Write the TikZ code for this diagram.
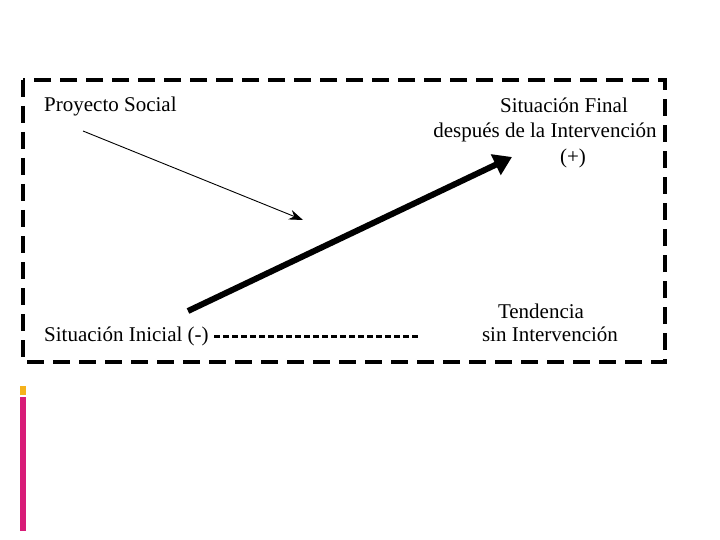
\documentclass[tikz,border=0pt]{standalone}
\usepackage{fontspec}
\setmainfont{Liberation Serif}
\usetikzlibrary{arrows.meta}
\definecolor{barorange}{RGB}{245,178,28}
\definecolor{barmagenta}{RGB}{216,28,120}
\tikzset{
  lbl/.style={font=\fontsize{21}{24}\selectfont, inner sep=0pt, text=black, anchor=base},
  frame/.style={line width=4pt, dash pattern=on 17pt off 9pt},
  thin/.style={line width=0.9pt, -{Stealth[length=14pt,width=10pt]}},
  thick/.style={line width=6pt, -{Triangle[length=18pt,width=22pt]}},
  dots/.style={line width=3pt, dash pattern=on 6pt off 3pt}
}
\begin{document}
\begin{tikzpicture}[x=1pt,y=-1pt]
\useasboundingbox (0,0) rectangle (720,540);
\draw[frame] (23,80) rectangle (665,362);
\node[lbl, anchor=base west] (ps) at (44,112) {Proyecto Social};
\node[lbl] (sf1) at (564,113) {Situación Final};
\node[lbl] (sf2) at (545,138) {después de la Intervención};
\node[lbl] (sf3) at (573,164) {(+)};
\node[lbl, anchor=base west] (si) at (44,341) {Situación Inicial (-)};
\node[lbl] (td1) at (541,318) {Tendencia};
\node[lbl] (td2) at (550,341) {sin Intervención};
\coordinate (a1) at (83,131);
\coordinate (a2) at (303,220);
\draw[thin] (a1) -- (a2);
\coordinate (b1) at (188,311);
\coordinate (b2) at (512,157);
\draw[thick] (b1) -- (b2);
\coordinate (d1) at (214,336);
\coordinate (d2) at (420,336);
\draw[dots] (d1) -- (d2);
\fill[barorange] (20,386) rectangle (26,395);
\fill[barmagenta] (20,397) rectangle (26,531);
\end{tikzpicture}
\end{document}
